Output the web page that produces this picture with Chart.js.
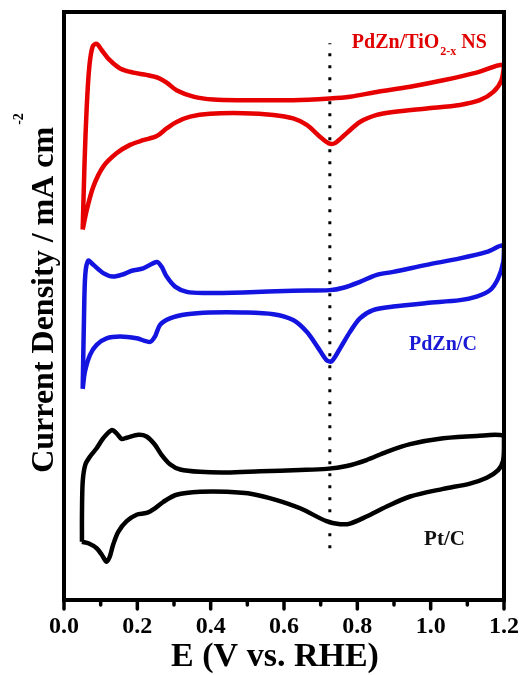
<!DOCTYPE html>
<html><head><meta charset="utf-8">
<script src="https://cdn.jsdelivr.net/npm/chart.js@4.4.1/dist/chart.umd.min.js"></script>
<style>html,body{margin:0;padding:0;background:#fff}</style>
</head><body>
<canvas id="c" width="525" height="675"></canvas>
<script>
// Potential (V vs. RHE) tick labels
const xTickValues = [0.0,0.1,0.2,0.3,0.4,0.5,0.6,0.7,0.8,0.9,1.0,1.1,1.2];
const xTickLabels = ['0.0','','0.2','','0.4','','0.6','','0.8','','1.0','','1.2'];

// PdZn/TiO2-x NS (offset current density, arbitrary units), closed CV loop
const pdznTiE = [0.051,0.056,0.062,0.069,0.078,0.089,0.103,0.125,0.153,0.189,0.225,0.257,0.280,0.307,0.353,0.407,0.489,0.625,0.725,0.780,0.853,0.944,1.034,1.125,1.200,
  1.193,1.171,1.134,1.080,0.989,0.898,0.853,0.807,0.771,0.739,0.721,0.698,0.662,0.625,0.571,0.489,0.398,0.344,0.307,0.280,0.253,0.216,0.180,0.144,0.107,0.080,0.062,0.051];
const pdznTiJ = [63.0,74.3,83.9,90.7,94.1,94.6,93.5,91.8,90.4,89.7,89.3,88.8,88.0,86.7,85.6,85.1,85.0,85.0,85.3,85.6,86.4,87.3,88.4,89.7,91.0,
  88.4,86.4,85.0,84.2,83.6,83.0,82.5,81.3,79.4,77.7,77.7,78.8,80.8,81.9,82.5,82.8,82.7,82.2,81.3,80.2,78.9,78.2,77.4,76.0,73.7,70.3,66.3,63.0];

// PdZn/C
const pdznCE = [0.051,0.0545,0.058,0.066,0.080,0.107,0.134,0.162,0.185,0.216,0.253,0.266,0.280,0.303,0.335,0.380,0.489,0.625,0.725,0.762,0.807,0.853,0.898,0.989,1.080,1.153,1.200,
  1.198,1.184,1.162,1.125,1.080,0.989,0.898,0.843,0.807,0.780,0.753,0.730,0.716,0.694,0.662,0.625,0.571,0.489,0.398,0.335,0.289,0.262,0.248,0.235,0.198,0.153,0.116,0.089,0.071,0.057,0.051];
const pdznCJ = [35.9,47.9,55.3,57.7,57.0,55.6,55.0,55.4,56.0,56.4,57.5,56.7,55.0,53.3,52.4,52.2,52.3,52.6,52.7,53.1,54.1,55.3,55.8,57.0,58.1,59.2,60.3,
  57.5,54.7,52.7,51.6,51.0,50.5,49.9,49.3,47.9,45.6,42.8,40.6,40.8,42.8,45.6,47.6,48.6,48.9,48.9,48.6,47.9,46.8,44.8,43.9,44.5,44.8,44.5,43.4,41.7,38.8,35.9];

// Pt/C
const ptCE = [0.049,0.049,0.051,0.058,0.071,0.089,0.107,0.130,0.144,0.157,0.171,0.203,0.225,0.248,0.266,0.289,0.317,0.371,0.444,0.535,0.644,0.716,0.771,0.825,0.880,0.944,1.034,1.125,1.200,
  1.200,1.197,1.184,1.153,1.107,1.034,0.944,0.880,0.825,0.780,0.753,0.716,0.644,0.580,0.516,0.444,0.371,0.307,0.271,0.248,0.225,0.198,0.171,0.148,0.134,0.125,0.116,0.103,0.089,0.068,0.049];
const ptCJ = [9.9,14.5,20.1,23.0,24.4,25.8,27.5,28.9,28.3,27.4,27.6,28.1,27.8,26.4,24.7,23.1,22.2,21.8,21.7,21.9,22.1,22.3,22.8,23.8,25.2,26.5,27.5,27.9,27.9,
  25.8,23.6,22.1,20.8,19.8,18.9,17.6,15.9,14.2,13.0,12.9,13.4,15.6,17.0,18.0,18.4,18.4,17.9,16.7,15.6,14.8,14.5,13.4,11.6,9.4,7.4,6.5,7.7,8.8,9.6,9.9];

// dotted reference line
const markerE = [0.725,0.725];
const markerJ = [8.8,94.7];

const pts = (E,J) => E.map((e,i)=>({x:e,y:J[i]}));
const SERIF = "'Liberation Serif','Times New Roman',serif";

const decor = {
  id:'decor',
  afterDraw(chart){
    const {ctx, chartArea:a, scales:{x,y}} = chart;
    ctx.save();
    // frame
    ctx.strokeStyle='#000'; ctx.lineWidth=4;
    ctx.strokeRect(a.left,a.top,a.right-a.left,a.bottom-a.top);
    // ticks
    ctx.lineCap='round'; ctx.lineWidth=3.5;
    xTickValues.forEach((v,i)=>{
      const px=x.getPixelForValue(v);
      const len = xTickLabels[i] ? 9 : 5;
      ctx.beginPath(); ctx.moveTo(px,a.bottom); ctx.lineTo(px,a.bottom+len); ctx.stroke();
    });
    // x title
    ctx.fillStyle='#000';
    ctx.font="bold 34px "+SERIF;
    ctx.textAlign='center'; ctx.textBaseline='middle';
    ctx.fillText('E (V vs. RHE)',275,657);
    ctx.textAlign='left';
    // series labels
    ctx.textBaseline='alphabetic';
    ctx.fillStyle='#e00000';
    let lx=x.getPixelForValue(0.785), ly=y.getPixelForValue(93.9);
    ctx.font="bold 20px "+SERIF;
    ctx.fillText('PdZn/TiO',lx,ly); lx+=ctx.measureText('PdZn/TiO').width;
    ctx.font="bold 12px "+SERIF;
    ctx.fillText('2-x',lx+1,ly+7); lx+=ctx.measureText('2-x').width+1;
    ctx.font="bold 20px "+SERIF;
    ctx.fillText(' NS',lx,ly);
    ctx.fillStyle='#1a1ad6';
    ctx.fillText('PdZn/C',x.getPixelForValue(0.941),y.getPixelForValue(42.5));
    ctx.fillStyle='#111';
    ctx.font="bold 21px "+SERIF;
    ctx.fillText('Pt/C',x.getPixelForValue(0.982),y.getPixelForValue(9.35));
    // y title
    ctx.translate(53,293); ctx.rotate(-Math.PI/2);
    ctx.font="bold 32px "+SERIF;
    const main='Current Density / mA cm';
    const w=ctx.measureText(main).width;
    ctx.font="bold 14px "+SERIF;
    const sw=ctx.measureText('-2').width;
    const sx=-(w+sw+2)/2;
    ctx.font="bold 32px "+SERIF; ctx.fillStyle='#000';
    ctx.fillText(main,sx,0);
    ctx.font="bold 14px "+SERIF;
    ctx.fillText('-2',sx+w+2,-30);
    ctx.restore();
  }
};

new Chart(document.getElementById('c'),{
  type:'scatter',
  data:{datasets:[
    {label:'PdZn/TiO2-x NS',data:pts(pdznTiE,pdznTiJ),borderColor:'#e60000',borderWidth:4.5,showLine:true,pointRadius:0,tension:0.3,order:0},
    {label:'PdZn/C',data:pts(pdznCE,pdznCJ),borderColor:'#1414e0',borderWidth:4.5,showLine:true,pointRadius:0,tension:0.3,order:0},
    {label:'Pt/C',data:pts(ptCE,ptCJ),borderColor:'#000',borderWidth:4.5,showLine:true,pointRadius:0,tension:0.3,order:0},
    {label:'marker',data:pts(markerE,markerJ),borderColor:'#000',borderWidth:3,borderDash:[3,9],showLine:true,pointRadius:0,tension:0,order:1}
  ]},
  options:{
    responsive:false,animation:false,devicePixelRatio:1,
    layout:{padding:{left:64,right:21,top:12,bottom:0}},
    plugins:{legend:{display:false},tooltip:{enabled:false}},
    scales:{
      x:{type:'linear',min:0,max:1.2,
        grid:{display:false,drawTicks:false},border:{display:false},
        afterBuildTicks(s){ s.ticks = xTickValues.map(v=>({value:v})); },
        afterFit(s){ s.height = 75; s.paddingLeft = 0; s.paddingRight = 0; },
        ticks:{padding:12,color:'#000',maxRotation:0,autoSkip:false,font:{family:SERIF,weight:'bold',size:24},
          callback:(v,i)=>xTickLabels[i]},
        title:{display:false}
      },
      y:{type:'linear',min:0,max:100,display:false}
    }
  },
  plugins:[decor]
});
</script>
</body></html>
